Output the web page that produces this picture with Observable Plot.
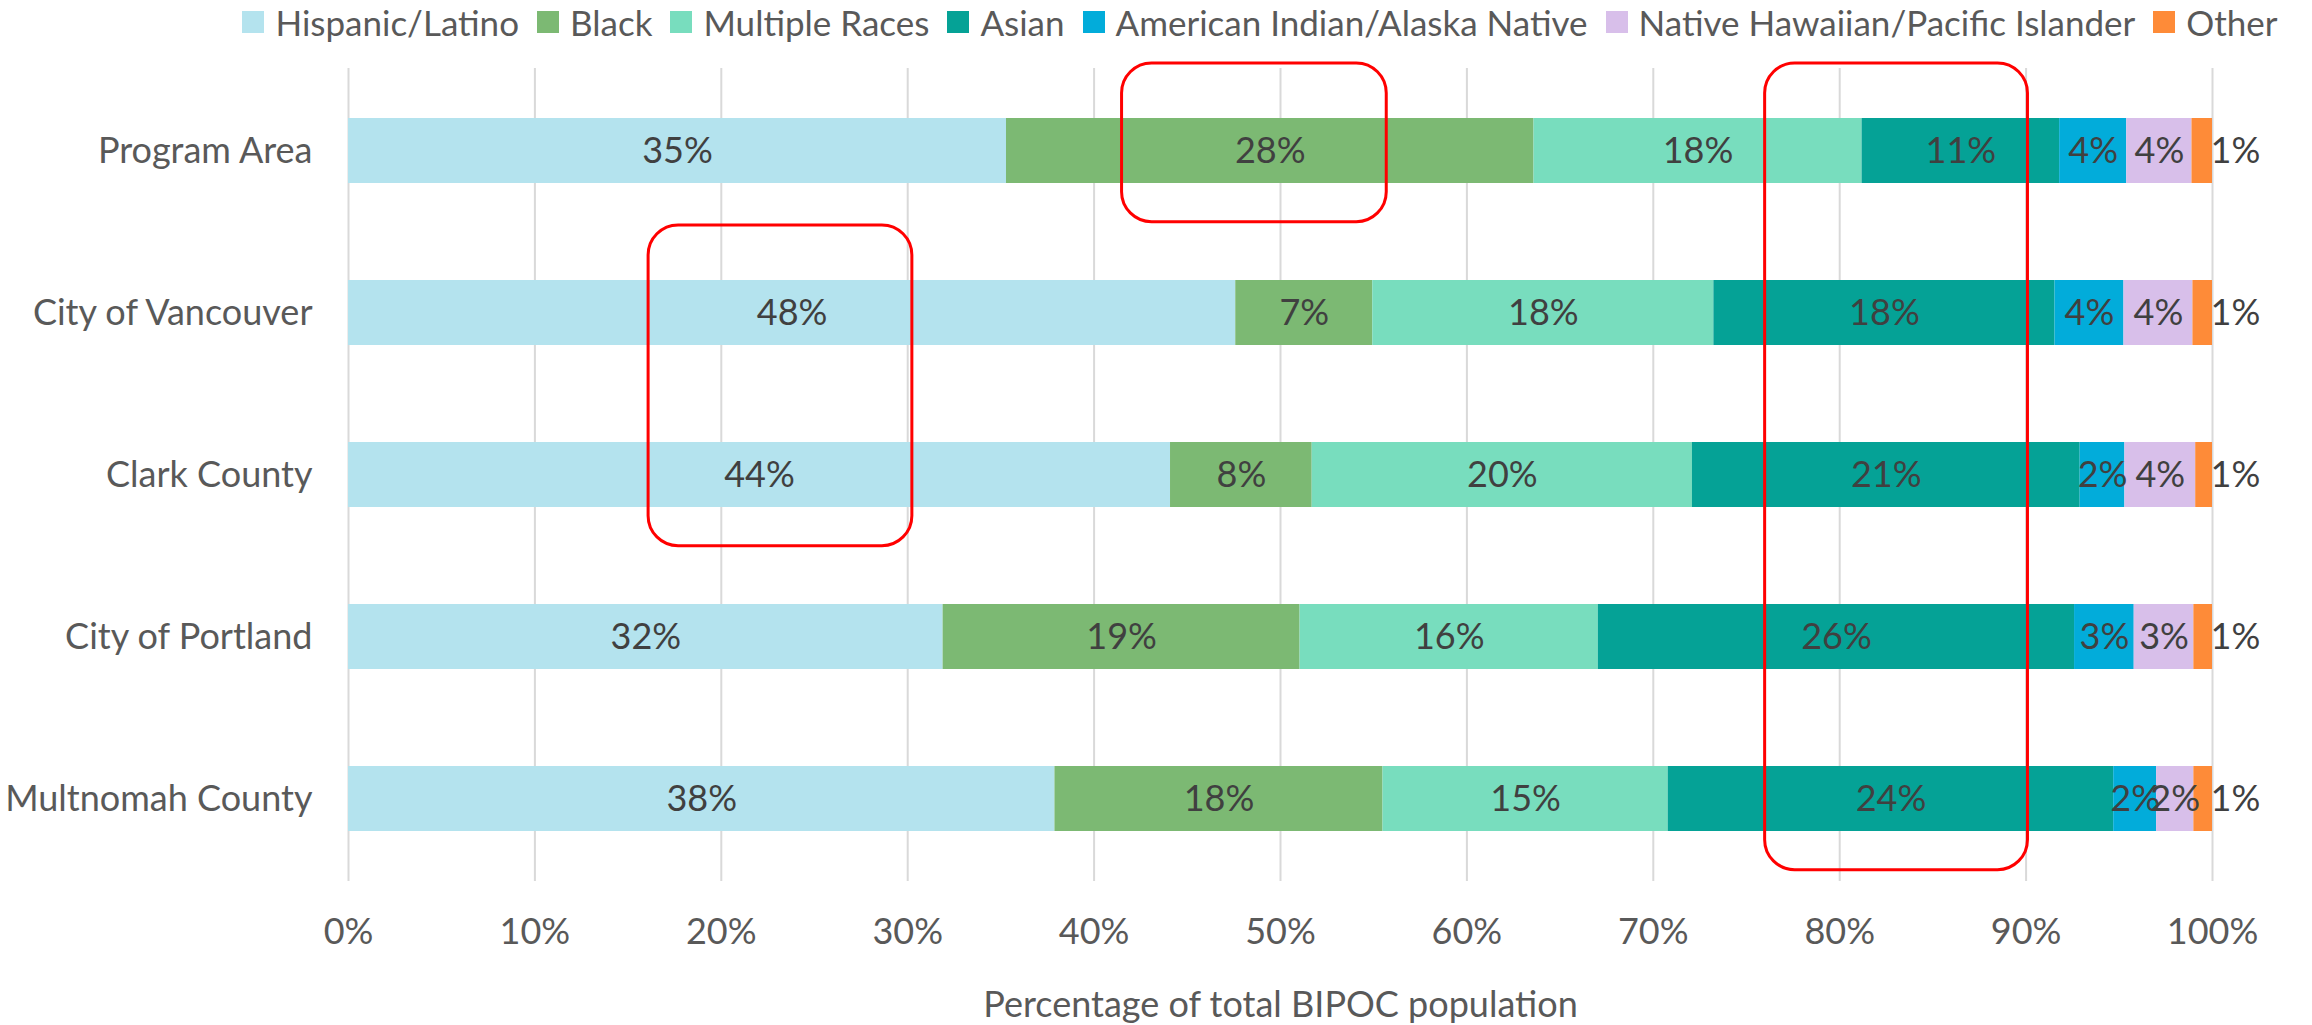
<!DOCTYPE html>
<html><head><meta charset="utf-8">
<script src="https://cdn.jsdelivr.net/npm/d3@7"></script>
<script src="https://cdn.jsdelivr.net/npm/@observablehq/plot@0.6"></script>
<style>
body{margin:0;background:#fff;font-family:"Source Sans Pro",Lato,sans-serif;}
#legend{display:flex;justify-content:center;align-items:center;height:44px;padding-left:308px;padding-right:100px;gap:18px;font-size:35px;color:#595959;white-space:nowrap;}
.item{display:flex;align-items:center;}
.sw{width:22px;height:22px;margin-right:11px;flex:none;}
</style></head><body>
<div id="legend"></div><div id="chart"></div>
<script>
const categories = ["Program Area","City of Vancouver","Clark County","City of Portland","Multnomah County"];
const groups = ["Hispanic/Latino","Black","Multiple Races","Asian","American Indian/Alaska Native","Native Hawaiian/Pacific Islander","Other"];
const colors = ["#b4e3ee","#7cb973","#78ddbe","#05a296","#02acda","#d8bfea","#fe8b38"];
const hispanic = [35.3,47.6,44.1,31.9,37.9];
const black = [28.3,7.35,7.6,19.15,17.6];
const multiple = [17.6,18.3,20.4,16.0,15.3];
const asian = [10.6,18.3,20.8,25.55,23.9];
const aian = [3.6,3.7,2.4,3.2,2.3];
const nhpi = [3.5,3.7,3.8,3.2,2.0];
const other = [1.1,1.05,0.9,1.0,1.0];
const xTicks = [0,10,20,30,40,50,60,70,80,90,100];
const xLabel = "Percentage of total BIPOC population";
// highlight boxes (red rounded rectangles), in data terms
const highlightX1 = [41.5, 16.1, 76.0];
const highlightX2 = [55.7, 30.25, 90.1];
const highlightFrom = ["Program Area","City of Vancouver","Program Area"];
const highlightTo = ["Program Area","Clark County","Multnomah County"];

const series = [hispanic, black, multiple, asian, aian, nhpi, other];
const rows = [];
categories.forEach((c, i) => groups.forEach((g, j) => rows.push({category: c, group: g, value: series[j][i]})));
const highlights = highlightX1.map((x1, i) => ({x1, x2: highlightX2[i], from: highlightFrom[i], to: highlightTo[i]}));

const font = '"Source Sans Pro", Lato, sans-serif';
const fs = 36;

// legend
const leg = document.getElementById("legend");
groups.forEach((g, j) => {
  const it = document.createElement("div"); it.className = "item";
  const sw = document.createElement("span"); sw.className = "sw"; sw.style.background = colors[j];
  const t = document.createElement("span"); t.textContent = g;
  it.appendChild(sw); it.appendChild(t); leg.appendChild(it);
});

const fmt = v => Math.round(v) + "%";

function highlightMark(index, scales, values, dimensions) {
  const g = d3.create("svg:g");
  const step = scales.y(categories[1]) - scales.y(categories[0]);
  const bw = step * 0.4;
  for (const h of highlights) {
    const x1 = scales.x(h.x1), x2 = scales.x(h.x2);
    const yTop = scales.y(h.from) + bw / 2 - step * 0.54;
    const yBot = scales.y(h.to) + bw / 2 + step * 0.44;
    g.append("rect").attr("x", x1).attr("y", yTop).attr("width", x2 - x1).attr("height", yBot - yTop)
      .attr("rx", 30).attr("ry", 30).attr("fill", "none").attr("stroke", "#ff0000").attr("stroke-width", 3);
  }
  return g.node();
}

const chart = Plot.plot({
  width: 2312, height: 981,
  marginLeft: 348, marginRight: 100, marginTop: 24, marginBottom: 144,
  style: {fontFamily: font, fontSize: fs + "px", color: "#595959", background: "#fff"},
  x: {domain: [0, 100], label: null},
  y: {domain: categories, paddingInner: 0.6, paddingOuter: 0.3, label: null},
  color: {domain: groups, range: colors},
  marks: [
    Plot.gridX(xTicks, {stroke: "#d9d9d9", strokeOpacity: 1, strokeWidth: 2}),
    Plot.barX(rows, {x: "value", y: "category", fill: "group", z: "group"}),
    Plot.text(rows, Plot.stackX({x: "value", y: "category", z: "group",
      text: d => d.group === "Other" ? "" : fmt(d.value), fill: "#404040", fontSize: fs})),
    Plot.text(rows, Plot.stackX2({x: "value", y: "category", z: "group",
      text: d => d.group === "Other" ? fmt(d.value) : "", fill: "#404040", fontSize: fs, textAnchor: "start", dx: -2})),
    Plot.axisX(xTicks, {tickSize: 0, tickPadding: 37, tickFormat: d => d + "%", fontSize: fs, label: null}),
    Plot.text([xLabel], {text: d => d, frameAnchor: "bottom", dy: 135, fill: "#595959", fontSize: fs}),
    Plot.axisY({tickSize: 0, tickPadding: 36, label: null, fontSize: fs}),
    highlightMark
  ]
});
document.getElementById("chart").appendChild(chart);
</script>
</body></html>
